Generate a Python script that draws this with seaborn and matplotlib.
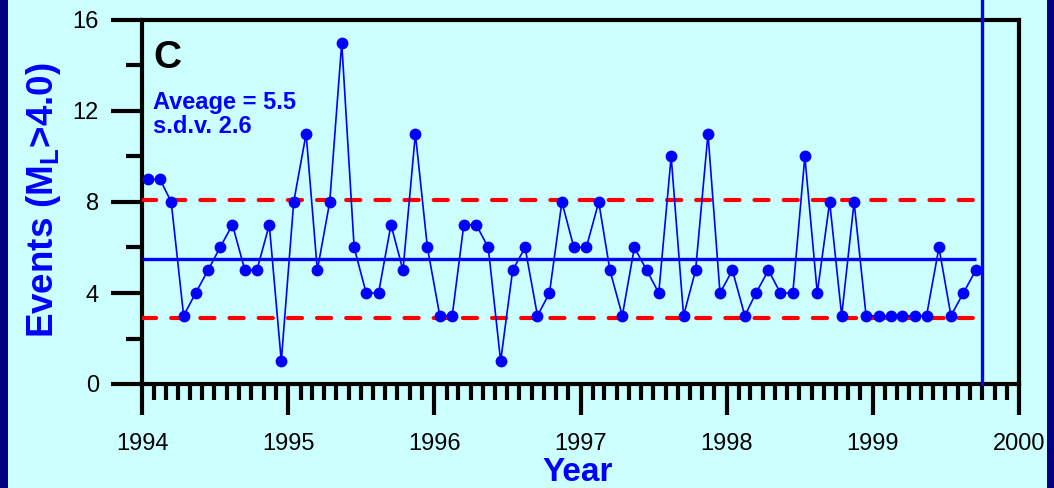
import pandas as pd
import matplotlib.pyplot as plt
import matplotlib.dates as mdates
from matplotlib.patches import Rectangle
from matplotlib.ticker import MultipleLocator
import seaborn as sns

# monthly event counts (M_L > 4.0), Jan 1994 - Sep 1999
events_1994 = [9, 9, 8, 3, 4, 5, 6, 7, 5, 5, 7, 1]
events_1995 = [8, 11, 5, 8, 15, 6, 4, 4, 7, 5, 11, 6]
events_1996 = [3, 3, 7, 7, 6, 1, 5, 6, 3, 4, 8, 6]
events_1997 = [6, 8, 5, 3, 6, 5, 4, 10, 3, 5, 11, 4]
events_1998 = [5, 3, 4, 5, 4, 4, 10, 4, 8, 3, 8, 3]
events_1999 = [3, 3, 3, 3, 3, 6, 3, 4, 5]

average = 5.5
sdv = 2.6
cutoff_date = "1999-10-01"

events = events_1994 + events_1995 + events_1996 + events_1997 + events_1998 + events_1999
dates = pd.date_range("1994-01-01", periods=len(events), freq="MS") + pd.Timedelta(days=14)
df = pd.DataFrame({"date": dates, "events": events})

BLUE = "#0000FF"
RED = "#FF0000"
CYAN = "#CCFFFF"
NAVY = "#000080"

sns.set_style("ticks")
plt.rcParams["font.family"] = ["Liberation Sans", "DejaVu Sans"]
plt.rcParams["mathtext.fontset"] = "custom"
plt.rcParams["mathtext.bf"] = "Liberation Sans:bold"
plt.rcParams["mathtext.rm"] = "Liberation Sans"

fig = plt.figure(figsize=(10.54, 4.88), dpi=100)
fig.patch.set_facecolor(NAVY)
fig.patches.append(Rectangle((8 / 1054, 0), 1039 / 1054, 1, transform=fig.transFigure,
                             facecolor=CYAN, edgecolor="none", zorder=-10))
ax = fig.add_axes([142 / 1054, 1 - 384 / 488, 877 / 1054, 364 / 488])
ax.set_facecolor(CYAN)

sns.lineplot(data=df, x="date", y="events", ax=ax, color=BLUE, lw=1.2,
             marker="o", markersize=8.5, markeredgecolor=BLUE, markeredgewidth=0, zorder=5)

start = pd.Timestamp("1994-01-01")
end = df["date"].iloc[-1]
ax.hlines(average, start, end, color=BLUE, lw=2.4, zorder=3)
for lvl in [average + sdv, average - sdv]:
    ax.hlines(lvl, start, end, color=RED, lw=3, linestyles=(0, (3.4, 3.6)), zorder=4,
              capstyle="round")
ax.axvline(pd.Timestamp(cutoff_date), ymin=0, ymax=1.06, color=BLUE, lw=2.4,
           clip_on=False, zorder=10)

ax.set_xlim(pd.Timestamp("1994-01-01"), pd.Timestamp("2000-01-01"))
ax.set_ylim(0, 16)
ax.xaxis.set_major_locator(mdates.YearLocator())
ax.xaxis.set_major_formatter(mdates.DateFormatter("%Y"))
ax.xaxis.set_minor_locator(mdates.MonthLocator())
ax.yaxis.set_major_locator(MultipleLocator(4))
ax.yaxis.set_minor_locator(MultipleLocator(2))

for s in ax.spines.values():
    s.set_linewidth(3)
    s.set_color("black")
ax.tick_params(which="major", length=22, width=3, labelsize=17, color="black", labelcolor="black")
ax.tick_params(which="minor", length=11.5, width=3, color="black")
ax.tick_params(axis="x", which="major", pad=13)
ax.tick_params(axis="y", which="major", pad=9)

ax.set_xlabel("Year", fontsize=24, fontweight="bold", color=BLUE)
ax.set_ylabel(r"Events (M$_\mathbf{L}$>4.0)", fontsize=26.5, fontweight="bold", color=BLUE)
ax.xaxis.set_label_coords(0.497, -0.2)
ax.yaxis.set_label_coords(-0.09, 0.505)

ax.text(0.013, 0.945, "C", transform=ax.transAxes, fontsize=28, fontweight="bold",
        color="black", va="top", ha="left")
ax.text(0.012, 0.805, f"Aveage = {average}\ns.d.v. {sdv}", transform=ax.transAxes,
        fontsize=17, fontweight="bold", color=BLUE, va="top", ha="left", linespacing=1.05)

plt.savefig("out.png", dpi=100, facecolor=fig.get_facecolor())
plt.close()
